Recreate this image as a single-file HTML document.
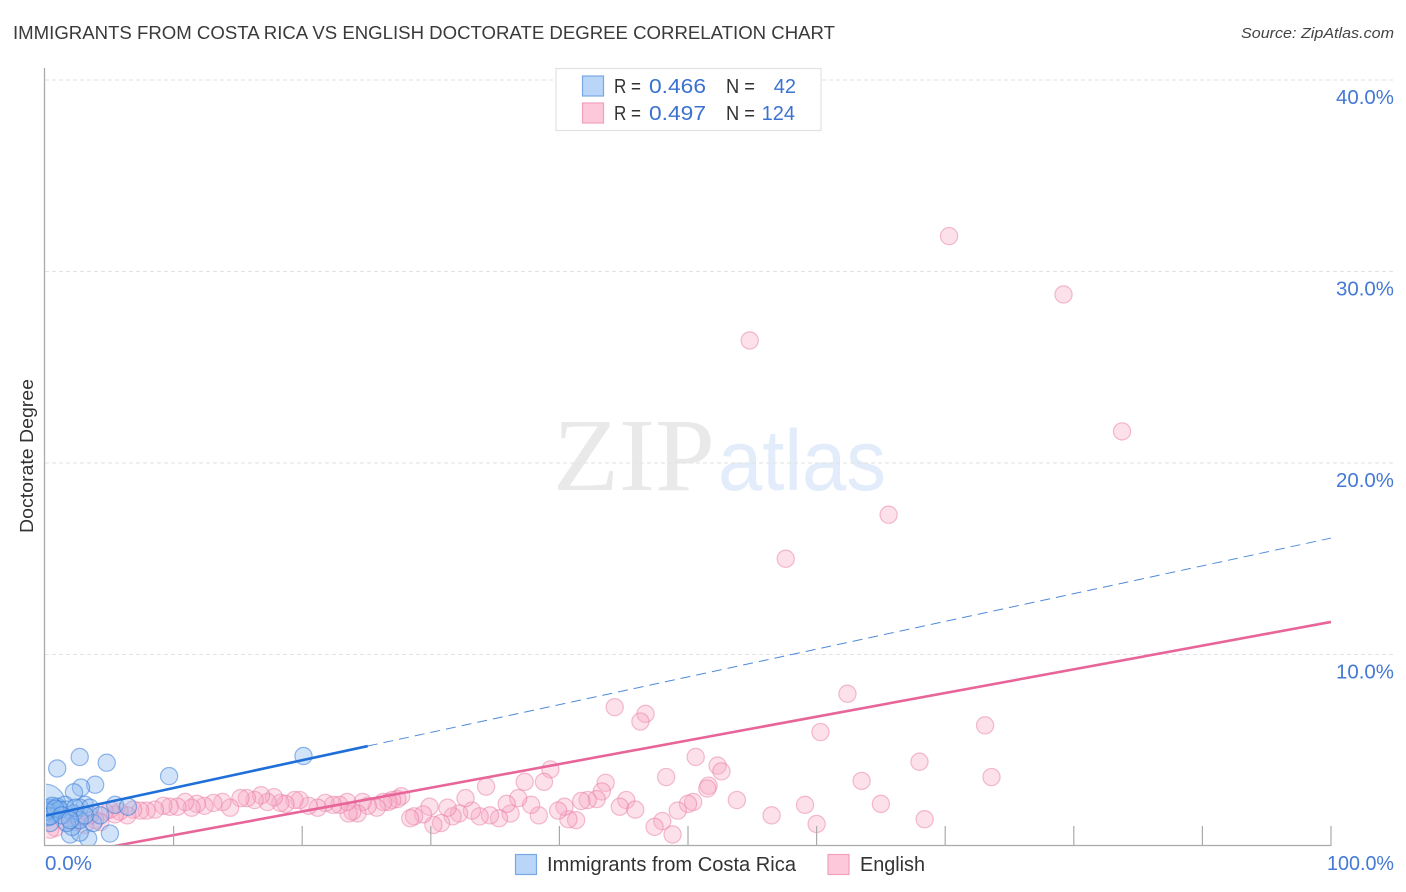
<!DOCTYPE html>
<html lang="en">
<head>
<meta charset="utf-8">
<title>Immigrants from Costa Rica vs English Doctorate Degree Correlation Chart</title>
<style>
html,body{margin:0;padding:0;background:#fff;}
svg{display:block;font-family:"Liberation Sans",sans-serif;}
</style>
</head>
<body>
<svg id="chart" width="1406" height="892" viewBox="0 0 1406 892" xmlns="http://www.w3.org/2000/svg">
  <defs>
    <clipPath id="plot-clip"><rect x="46" y="60" width="1360" height="785.5"/></clipPath>
  </defs>
  <rect x="0" y="0" width="1406" height="892" fill="#ffffff"/>
  <text x="13" y="39" font-size="18.5" fill="#3a3a3a" textLength="822" lengthAdjust="spacingAndGlyphs">IMMIGRANTS FROM COSTA RICA VS ENGLISH DOCTORATE DEGREE CORRELATION CHART</text>
  <text x="1241" y="38" font-size="15" font-style="italic" fill="#444" textLength="153" lengthAdjust="spacingAndGlyphs">Source: ZipAtlas.com</text>
  <text x="553" y="490" font-family="'Liberation Serif',serif" font-size="104" fill="#e9e9e9" textLength="162" lengthAdjust="spacingAndGlyphs">ZIP</text>
  <text x="718" y="490" font-size="86" fill="#e3ecfa" textLength="168" lengthAdjust="spacingAndGlyphs">atlas</text>
  <g id="grid"></g>
  <g id="pink-points" clip-path="url(#plot-clip)"></g>
  <g id="blue-points" clip-path="url(#plot-clip)"></g>
  <g id="trends" clip-path="url(#plot-clip)"></g>
  <g id="axes"></g>
  <text transform="translate(33,456) rotate(-90)" text-anchor="middle" font-size="18" fill="#333" textLength="154" lengthAdjust="spacingAndGlyphs">Doctorate Degree</text>

  <g>
    <rect x="556" y="68.5" width="265" height="62" fill="#fff" stroke="#e2e2e2" stroke-width="1.2"/>
    <rect x="582.5" y="76" width="21" height="20" fill="#b9d5f7" stroke="#79a9e4" stroke-width="1.2"/>
    <rect x="582.5" y="103" width="21" height="20" fill="#fcc8da" stroke="#f3a0bd" stroke-width="1.2"/>
    <g font-size="20" fill="#333">
      <text x="614" y="93" textLength="27" lengthAdjust="spacingAndGlyphs">R =</text>
      <text x="649" y="93" fill="#3b72d0" textLength="57" lengthAdjust="spacingAndGlyphs">0.466</text>
      <text x="726" y="93" textLength="29" lengthAdjust="spacingAndGlyphs">N =</text>
      <text x="796" y="93" fill="#3b72d0" text-anchor="end">42</text>
      <text x="614" y="120" textLength="27" lengthAdjust="spacingAndGlyphs">R =</text>
      <text x="649" y="120" fill="#3b72d0" textLength="57" lengthAdjust="spacingAndGlyphs">0.497</text>
      <text x="726" y="120" textLength="29" lengthAdjust="spacingAndGlyphs">N =</text>
      <text x="795" y="120" fill="#3b72d0" text-anchor="end">124</text>
    </g>
  </g>

  <g>
    <rect x="515.5" y="854.5" width="21" height="20" fill="#b9d5f7" stroke="#79a9e4" stroke-width="1.2"/>
    <text x="547" y="871" font-size="20" fill="#333" textLength="249" lengthAdjust="spacingAndGlyphs">Immigrants from Costa Rica</text>
    <rect x="828" y="854.5" width="21" height="20" fill="#fcc8da" stroke="#f3a0bd" stroke-width="1.2"/>
    <text x="860" y="871" font-size="20" fill="#333" textLength="65" lengthAdjust="spacingAndGlyphs">English</text>
  </g>
</svg>

<script>
const yTickValues = [10, 20, 30, 40];
const yTickLabels = ['10.0%', '20.0%', '30.0%', '40.0%'];
const xTickValues = [10, 20, 30, 40, 50, 60, 70, 80, 90, 100];
const xEdgeLabels = ['0.0%', '100.0%'];

const pinkX = [70.3,79.2,54.8,83.75,65.6,57.6,62.4,44.3,46.7,46.3,73.1,60.3,50.6,52.3,52.6,68.0,63.5,73.6,48.3,39.3,34.3,37.3,38.8,43.6,51.6,51.5,53.8,43.3,65.0,59.1,56.5,60.0,68.4,50.4,50.0,49.2,48.0,47.4,48.8,45.2,44.7,45.9,42.9,42.2,41.7,41.3,40.7,40.4,39.9,38.4,37.8,36.8,36.2,35.9,35.3,34.6,33.8,33.2,32.7,32.2,31.7,31.3,30.8,30.2,29.9,29.4,28.7,28.4,27.7,27.4,27.0,26.7,26.3,25.8,25.1,24.7,24.3,23.9,23.6,23.5,22.9,22.4,21.8,21.2,20.5,19.8,19.4,18.7,18.3,17.8,17.3,16.8,16.3,15.7,15.2,14.4,13.8,13.1,12.4,11.8,11.4,10.9,10.3,9.7,9.2,8.55,7.9,7.4,6.85,6.4,5.8,5.45,5.05,4.65,4.3,3.9,3.5,3.1,2.7,2.35,1.95,1.55,0.8,0.4];
const pinkY = [31.85,28.8,26.4,21.65,17.3,15.0,7.95,7.25,6.9,6.5,6.3,5.95,4.65,4.2,3.9,4.4,3.4,3.6,3.6,4.0,3.1,3.35,3.35,3.3,3.15,3.0,2.4,2.85,2.2,2.15,1.6,1.15,1.4,2.3,2.2,1.85,1.3,1.0,0.6,2.4,2.05,1.9,2.45,2.4,2.35,1.35,1.4,2.05,1.85,1.6,2.15,2.5,1.7,2.2,1.45,1.6,1.55,1.85,2.5,1.7,1.55,2.0,1.2,1.1,2.05,1.65,1.55,1.45,2.6,2.45,2.4,2.3,2.3,2.0,2.1,2.3,1.7,1.8,1.7,2.3,2.15,2.15,2.25,2.0,2.1,2.4,2.4,2.2,2.25,2.55,2.3,2.65,2.4,2.5,2.5,2.0,2.3,2.25,2.1,2.2,2.0,2.3,2.05,2.05,2.1,1.9,1.85,1.85,1.9,1.6,1.8,1.65,1.9,1.8,1.25,1.35,1.6,1.1,1.45,1.25,1.6,1.25,0.95,0.85];

const blueX = [0.95,2.7,4.8,9.65,20.1,3.9,2.8,2.25,5.45,6.45,5.05,3.35,1.95,0,0.95,1.55,3.1,2.7,3.5,0.4,0.55,0.25,0.8,1.7,2.2,2.7,3.75,2.1,2.7,1.7,0.4,4.3,0.25,0.55,1.15,0.15,0.4,0.8,1.3,2.35,3.1,1.95];
const blueY = [4.05,4.65,4.35,3.65,4.7,3.2,3.05,2.8,2.15,2.05,0.65,0.4,0.6,2.15,2.05,2.15,2.15,2.0,2.0,2.0,1.7,1.5,1.8,1.9,1.7,0.7,1.2,1.0,1.35,1.2,1.2,1.6,1.9,2.1,1.9,1.8,1.55,1.95,1.6,2.0,1.6,1.35];
const blueWeight = [1,1,1,1,1,1,1,1,1,1,1,1,1,2.4,1,1,1,1,1,1,1,1,1,1,1,1,1,1,1,1,1,1,1,1,1,1,1,1,1,1,1,1];

const blueTrendEnds = [1.58, 16.08];
const blueTrendSolidTo = 25.1;
const pinkTrendEnds = [-0.67, 11.7];

function xScale(v) { return 45 + v * 12.86; }
function yScale(v) { return 846 - v * 19.15; }

const NS = 'http://www.w3.org/2000/svg';
function mk(tag, parent, props) {
  const el = document.createElementNS(NS, tag);
  for (const k in props) el.setAttribute(k, props[k]);
  parent.appendChild(el);
  return el;
}

const gridG = document.getElementById('grid');
const axesG = document.getElementById('axes');
const pinkG = document.getElementById('pink-points');
const blueG = document.getElementById('blue-points');
const trendG = document.getElementById('trends');

yTickValues.forEach(function (v, i) {
  const line = mk('line', gridG, { x1: 45, x2: 1393, y1: yScale(v), y2: yScale(v), stroke: '#e2e2e2', 'stroke-width': 1, 'stroke-dasharray': '4 3' });
  
  
  const label = mk('text', axesG, { x: 1394, y: yScale(v) + 24, 'text-anchor': 'end', 'font-size': 20, fill: '#4479d4', textLength: 58, lengthAdjust: 'spacingAndGlyphs' });
  
  
  label.textContent = yTickLabels[i];
});

const yAxis = mk('line', axesG, { x1: 44.5, x2: 44.5, y1: 68, y2: 846, stroke: '#aaaaaa', 'stroke-width': 1.3 });


const xAxis = mk('line', axesG, { x1: 44, x2: 1331, y1: 845.5, y2: 845.5, stroke: '#aaaaaa', 'stroke-width': 1.3 });



xTickValues.forEach(function (v) {
  const tick = mk('line', axesG, { x1: xScale(v), x2: xScale(v), y1: 826, y2: 846, stroke: '#aaaaaa', 'stroke-width': 1.2 });
  
  
});

const xLabelLeft = mk('text', axesG, { x: 45, y: 870, 'font-size': 20, fill: '#4479d4', textLength: 47, lengthAdjust: 'spacingAndGlyphs' });


xLabelLeft.textContent = xEdgeLabels[0];
const xLabelRight = mk('text', axesG, { x: 1394, y: 870, 'text-anchor': 'end', 'font-size': 20, fill: '#4479d4', textLength: 67, lengthAdjust: 'spacingAndGlyphs' });


xLabelRight.textContent = xEdgeLabels[1];

pinkX.forEach(function (v, i) {
  const c = mk('circle', pinkG, { cx: xScale(v), cy: yScale(pinkY[i]), r: 8.6, fill: 'rgba(248,170,197,0.36)', stroke: 'rgba(232,120,160,0.48)', 'stroke-width': 1.2 });
  
  
});

blueX.forEach(function (v, i) {
  const c = mk('circle', blueG, { cx: xScale(v), cy: yScale(blueY[i]), r: 8.6 * blueWeight[i], fill: 'rgba(140,186,240,0.4)', stroke: 'rgba(50,120,215,0.52)', 'stroke-width': 1.2 });
  
  
});

function blueTrendAt(x) { return blueTrendEnds[0] + (blueTrendEnds[1] - blueTrendEnds[0]) * x / 100; }

const blueSolid = mk('line', trendG, { x1: xScale(0), y1: yScale(blueTrendAt(0)), x2: xScale(blueTrendSolidTo), y2: yScale(blueTrendAt(blueTrendSolidTo)), stroke: '#1f6fd8', 'stroke-width': 2.6 });


const blueDash = mk('line', trendG, { x1: xScale(blueTrendSolidTo), y1: yScale(blueTrendAt(blueTrendSolidTo)), x2: xScale(100), y2: yScale(blueTrendAt(100)), stroke: '#4f8bd9', 'stroke-width': 1, 'stroke-dasharray': '10 6' });


const pinkLine = mk('line', trendG, { x1: xScale(0), y1: yScale(pinkTrendEnds[0]), x2: xScale(100), y2: yScale(pinkTrendEnds[1]), stroke: '#e8659a', 'stroke-width': 2.6 });


</script>
</body>
</html>
